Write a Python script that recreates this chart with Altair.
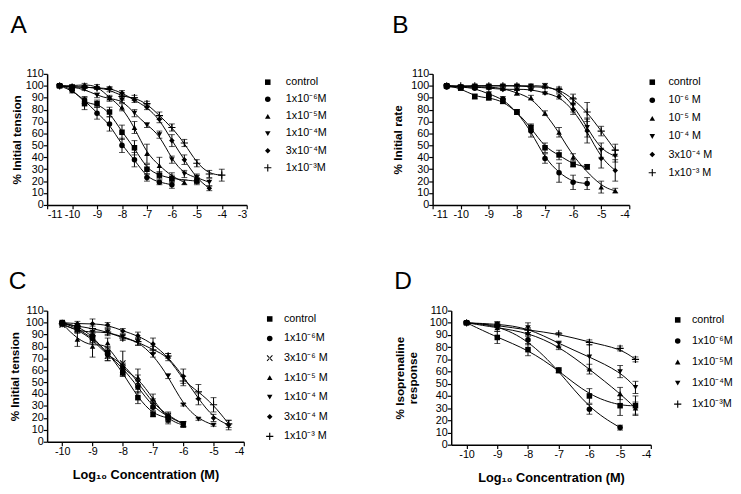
import altair as alt
import pandas as pd

FONT = "Liberation Sans"

SQ, CI, TU, TD, DI = "square", "circle", "triangle-up", "triangle-down", "diamond"
PLUS = "M-1.3,-0.2H1.3V0.2H-1.3Z M-0.2,-1.3H0.2V1.3H-0.2Z"
XSH = "M-1.1,-0.85L-0.85,-1.1L1.1,0.85L0.85,1.1Z M-1.1,0.85L-0.85,1.1L1.1,-0.85L0.85,-1.1Z"

# ---------------- Panel A ----------------
A_labels = ["control", "1x10⁻⁶M", "1x10⁻⁵M", "1x10⁻⁴M", " 3x10⁻⁴M", "1x10⁻³M"]
A_shapes = [SQ, CI, TU, TD, DI, PLUS]
A_ctrl_x = [-10.5, -10, -9.5, -9, -8.5, -8, -7.5, -7, -6.5, -6, -5]
A_ctrl_y = [100, 98, 85, 85, 78, 61, 48, 30, 25, 22, 20]
A_ctrl_e = [1, 2, 5, 3, 4, 6, 6, 4, 3, 3, 3]
A_m6_x = [-10.5, -10, -9.5, -9, -8.5, -8, -7.5, -7, -6.5, -6]
A_m6_y = [100, 96, 88, 77, 68, 50, 38, 23, 19, 17]
A_m6_e = [1, 2, 3, 5, 6, 6, 6, 3, 2, 3]
A_m5_x = [-10.5, -10, -9.5, -9, -8.5, -8, -7.5, -7, -6.5, -6, -5.5]
A_m5_y = [100, 100, 101, 100, 90, 82, 65, 43, 33, 24, 19]
A_m5_e = [1, 1, 1, 1, 2, 3, 5, 8, 7, 3, 2]
A_m4_x = [-10.5, -10, -9.5, -9, -8.5, -8, -7.5, -7, -6.5, -6, -5.5, -5, -4.5]
A_m4_y = [100, 99, 97, 92, 89, 88, 77, 67, 59, 38, 26, 23, 19]
A_m4_e = [1, 1, 1, 2, 2, 2, 3, 2, 3, 3, 3, 3, 3]
A_3m4_x = [-10.5, -10, -9.5, -9, -8.5, -8, -7.5, -7, -6.5, -6, -5.5, -5, -4.5]
A_3m4_y = [100, 99, 99, 98, 98, 94, 88, 82, 72, 54, 38, 22, 14]
A_3m4_e = [1, 1, 1, 1, 1, 2, 2, 2, 3, 5, 4, 3, 2]
A_m3_x = [-10.5, -10, -9.5, -9, -8.5, -8, -7.5, -7, -6.5, -6, -5.5, -5, -4.5, -4]
A_m3_y = [100, 99, 99, 98, 97, 91, 90, 85, 75, 65, 52, 35, 26, 25]
A_m3_e = [1, 1, 1, 1, 2, 3, 2, 2, 3, 3, 3, 3, 3, 5]

# ---------------- Panel B ----------------
B_labels = ["control", "10⁻⁶ M", "10⁻⁵ M", "10⁻⁴ M", "3x10⁻⁴ M", "1x10⁻³ M"]
B_shapes = [SQ, CI, TU, TD, DI, PLUS]
B_ctrl_x = [-10.5, -10, -9.5, -9, -8.5, -8, -7.5, -7, -6.5, -6, -5.5]
B_ctrl_y = [100, 98, 91, 90, 87, 78, 65, 48, 42, 34, 32]
B_ctrl_e = [1, 1, 2, 2, 2, 2, 3, 4, 4, 2, 2]
B_m6_x = [-10.5, -10, -9.5, -9, -8.5, -8, -7.5, -7, -6.5, -6, -5.5]
B_m6_y = [99, 99, 98, 93, 89, 78, 62, 39, 27, 19, 18]
B_m6_e = [1, 1, 1, 2, 2, 2, 5, 4, 8, 6, 5]
B_m5_x = [-10.5, -10, -9.5, -9, -8.5, -8, -7.5, -7, -6.5, -6, -5, -4.5]
B_m5_y = [100, 99, 99, 99, 98, 94, 90, 77, 61, 40, 15, 12]
B_m5_e = [1, 1, 1, 1, 1, 2, 2, 2, 4, 3, 5, 2]
B_m4_x = [-10.5, -10, -9.5, -9, -8.5, -8, -7.5, -7, -6.5, -6, -5.5, -5, -4.5]
B_m4_y = [100, 99, 100, 100, 100, 100, 100, 100, 96, 84, 65, 46, 41]
B_m4_e = [1, 1, 1, 1, 1, 1, 1, 2, 2, 6, 8, 6, 5]
B_3m4_x = [-10.5, -10, -9.5, -9, -8.5, -8, -7.5, -7, -6.5, -6, -5.5, -5, -4.5]
B_3m4_y = [100, 99, 99, 98, 97, 97, 97, 94, 91, 80, 62, 39, 29]
B_3m4_e = [1, 1, 1, 1, 1, 1, 1, 1, 2, 4, 10, 8, 9]
B_m3_x = [-10.5, -10, -9.5, -9, -8.5, -8, -7.5, -7, -6.5, -6, -5.5, -5, -4.5]
B_m3_y = [100, 100, 100, 100, 100, 100, 99, 99, 97, 89, 78, 62, 46]
B_m3_e = [1, 1, 1, 1, 1, 1, 1, 1, 2, 4, 8, 4, 5]

# ---------------- Panel C ----------------
C_labels = ["control", "1x10⁻⁶M", "3x10⁻⁶ M", "1x10⁻⁵ M", "1x10⁻⁴ M", "3x10⁻⁴ M", "1x10⁻³ M"]
C_shapes = [SQ, CI, XSH, TU, TD, DI, PLUS]
C_ctrl_x = [-10, -9.5, -9, -8.5, -8, -7.5, -7, -6.5]
C_ctrl_y = [100, 95, 87, 75, 58, 37, 23, 20]
C_ctrl_e = [1, 2, 4, 5, 3, 5, 2, 3]
C_m6_x = [-10, -9.5, -9, -8.5, -8, -7.5, -7, -6.5, -6]
C_m6_y = [100, 97, 89, 73, 62, 46, 29, 21, 15]
C_m6_e = [1, 2, 3, 5, 4, 5, 3, 3, 2]
C_3m6_x = [-10, -9.5, -9, -8.5, -8, -7.5, -7, -6.5, -6]
C_3m6_y = [98, 94, 86, 72, 66, 50, 32, 22, 15]
C_3m6_e = [1, 2, 3, 4, 10, 6, 4, 3, 2]
C_m5_x = [-10, -9.5, -9, -8.5, -8, -7.5, -7, -6.5, -6]
C_m5_y = [99, 86, 80, 83, 60, 54, 36, 18, 14]
C_m5_e = [1, 6, 9, 4, 5, 7, 4, 3, 2]
C_m4_x = [-10, -9.5, -9, -8.5, -8, -7.5, -7, -6.5, -6, -5.5, -5]
C_m4_y = [99, 93, 92, 92, 88, 84, 73, 55, 31, 19, 14]
C_m4_e = [1, 2, 3, 3, 2, 3, 2, 2, 1, 1, 1]
C_3m4_x = [-10, -9.5, -9, -8.5, -8, -7.5, -7, -6.5, -6, -5.5, -5, -4.5]
C_3m4_y = [100, 99, 99, 98, 93, 89, 82, 71, 55, 36, 20, 14]
C_3m4_e = [1, 2, 4, 2, 2, 3, 5, 3, 6, 5, 3, 4]
C_m3_x = [-10, -9.5, -9, -8.5, -8, -7.5, -7, -6.5, -6, -5.5, -5, -4.5]
C_m3_y = [99, 97, 95, 92, 87, 84, 77, 72, 51, 42, 31, 15]
C_m3_e = [1, 1, 2, 2, 2, 3, 3, 2, 4, 6, 6, 3]

# ---------------- Panel D ----------------
D_labels = ["control", "1x10⁻⁶M", "1x10⁻⁵M", "1x10⁻⁴M", "1x10⁻³M"]
D_shapes = [SQ, CI, TU, TD, PLUS]
D_ctrl_x = [-10, -9, -8, -7, -6, -5, -4.5]
D_ctrl_y = [100, 88, 78, 61, 40, 32, 32]
D_ctrl_e = [1, 5, 5, 2, 6, 8, 8]
D_m6_x = [-10, -9, -8, -7, -6, -5]
D_m6_y = [100, 98, 86, 61, 29, 14]
D_m6_e = [1, 2, 4, 2, 4, 2]
D_m5_x = [-10, -9, -8, -7, -6, -5, -4.5]
D_m5_y = [100, 96, 92, 81, 62, 42, 30]
D_m5_e = [1, 3, 3, 3, 4, 5, 5]
D_m4_x = [-10, -9, -8, -7, -6, -5, -4.5]
D_m4_y = [100, 99, 96, 83, 72, 60, 47]
D_m4_e = [1, 2, 4, 2, 10, 5, 5]
D_m3_x = [-10, -9, -8, -7, -6, -5, -4.5]
D_m3_y = [100, 98, 94, 91, 84, 79, 70]
D_m3_e = [1, 1, 2, 1, 2, 2, 2]

Y_TICKS = [0, 10, 20, 30, 40, 50, 60, 70, 80, 90, 100, 110]


def frame(labels, xs, ys, es):
    rows = []
    for lab, x, y, e in zip(labels, xs, ys, es):
        for xi, yi, ei in zip(x, y, e):
            rows.append({"series": lab, "x": xi, "y": yi, "lo": yi - ei, "hi": yi + ei})
    return pd.DataFrame(rows)


def panel(df, labels, shapes, xdom, xticks, w, h, ytitle, ytpad, xtitle, letter,
          toff, lx, ly, rowpad, loff):
    xaxis_kw = dict(values=xticks, labelExpr="'' + datum.value", title=xtitle)
    if xtitle is not None:
        xaxis_kw["titlePadding"] = 13
    xaxis = alt.Axis(**xaxis_kw)
    xs = alt.Scale(domain=xdom, nice=False, zero=False)
    ys = alt.Scale(domain=[0, 110], nice=False)
    yaxis = alt.Axis(values=Y_TICKS, title=ytitle, titlePadding=ytpad)
    X = alt.X("x:Q", scale=xs, axis=xaxis)
    Y = alt.Y("y:Q", scale=ys, axis=yaxis)
    Ylo = alt.Y("lo:Q", scale=ys, axis=yaxis)
    Yhi = alt.Y("hi:Q", scale=ys, axis=yaxis)
    base = alt.Chart(df)
    lines = base.mark_line(interpolate="basis", color="black", strokeWidth=1).encode(
        x=X, y=Y, detail="series:N")
    bars = base.mark_rule(color="black", strokeWidth=1).encode(x=X, y=Ylo, y2="hi:Q")
    cap_lo = base.mark_tick(orient="horizontal", size=6, thickness=1, color="black").encode(x=X, y=Ylo)
    cap_hi = base.mark_tick(orient="horizontal", size=6, thickness=1, color="black").encode(x=X, y=Yhi)
    pts = base.mark_point(filled=True, color="black", size=32, opacity=1).encode(
        x=X, y=Y,
        shape=alt.Shape("series:N", scale=alt.Scale(domain=labels, range=shapes),
                        legend=alt.Legend(title=None, orient="none", legendX=lx, legendY=ly,
                                          labelFont=FONT, labelFontSize=11, labelColor="black",
                                          symbolSize=32, symbolFillColor="black",
                                          symbolStrokeWidth=0,
                                          rowPadding=rowpad, labelOffset=loff, padding=0)))
    return alt.layer(lines, bars, cap_lo, cap_hi, pts).properties(
        width=w, height=h,
        title=alt.TitleParams(letter, anchor="start", frame="bounds", fontSize=25,
                              fontWeight="normal", font=FONT, color="black", offset=toff,
                              baseline="alphabetic"))


dfA = frame(A_labels, [A_ctrl_x, A_m6_x, A_m5_x, A_m4_x, A_3m4_x, A_m3_x],
            [A_ctrl_y, A_m6_y, A_m5_y, A_m4_y, A_3m4_y, A_m3_y],
            [A_ctrl_e, A_m6_e, A_m5_e, A_m4_e, A_3m4_e, A_m3_e])
dfB = frame(B_labels, [B_ctrl_x, B_m6_x, B_m5_x, B_m4_x, B_3m4_x, B_m3_x],
            [B_ctrl_y, B_m6_y, B_m5_y, B_m4_y, B_3m4_y, B_m3_y],
            [B_ctrl_e, B_m6_e, B_m5_e, B_m4_e, B_3m4_e, B_m3_e])
dfC = frame(C_labels, [C_ctrl_x, C_m6_x, C_3m6_x, C_m5_x, C_m4_x, C_3m4_x, C_m3_x],
            [C_ctrl_y, C_m6_y, C_3m6_y, C_m5_y, C_m4_y, C_3m4_y, C_m3_y],
            [C_ctrl_e, C_m6_e, C_3m6_e, C_m5_e, C_m4_e, C_3m4_e, C_m3_e])
dfD = frame(D_labels, [D_ctrl_x, D_m6_x, D_m5_x, D_m4_x, D_m3_x],
            [D_ctrl_y, D_m6_y, D_m5_y, D_m4_y, D_m3_y],
            [D_ctrl_e, D_m6_e, D_m5_e, D_m4_e, D_m3_e])

XT = "Log₁₀ Concentration (M)"
pA = panel(dfA, A_labels, A_shapes, [-11, -3], list(range(-11, -2)), 204, 134,
           "% Initial tension", 2, None, "A", 11, 220, 3, 5.5, 13)
pB = panel(dfB, B_labels, B_shapes, [-11, -4], list(range(-11, -3)), 201, 134,
           "% Initial rate", 6, None, "B", 11, 219, 3, 6.5, 11)
pC = panel(dfC, C_labels, C_shapes, [-10.5, -4], list(range(-10, -3)), 201, 134,
           "% Initial tension", 4, XT, "C", -9, 222, 3, 8, 9)
pD = panel(dfD, D_labels, D_shapes, [-10.5, -4], list(range(-10, -3)), 204, 137,
           ["% Isoprenaline", "response"], 10, XT, "D", -9, 226, 4, 9.5, 9)

row1 = alt.hconcat(pA, pB, spacing=190, bounds="flush").resolve_scale(
    shape="independent").resolve_legend(shape="independent")
row2 = alt.hconcat(pC, pD, spacing=212, bounds="flush").resolve_scale(
    shape="independent").resolve_legend(shape="independent")

chart = alt.vconcat(row1, row2, spacing=51).resolve_scale(
    shape="independent").resolve_legend(shape="independent").properties(
    padding={"left": 0, "top": 0, "right": 0, "bottom": 0}
).configure_view(stroke=None).configure_axis(
    grid=False, domainColor="black", tickColor="black", labelColor="black",
    titleColor="black", labelFont=FONT, titleFont=FONT, labelFontSize=11,
    titleFontSize=12, titleFontWeight="bold", tickSize=4, labelPadding=0,
    domainWidth=1.5, tickWidth=1.2, titleLineHeight=13
).configure_axisX(titleFontSize=13)

chart.save("out.html", embed_options={"renderer": "svg", "actions": False})
